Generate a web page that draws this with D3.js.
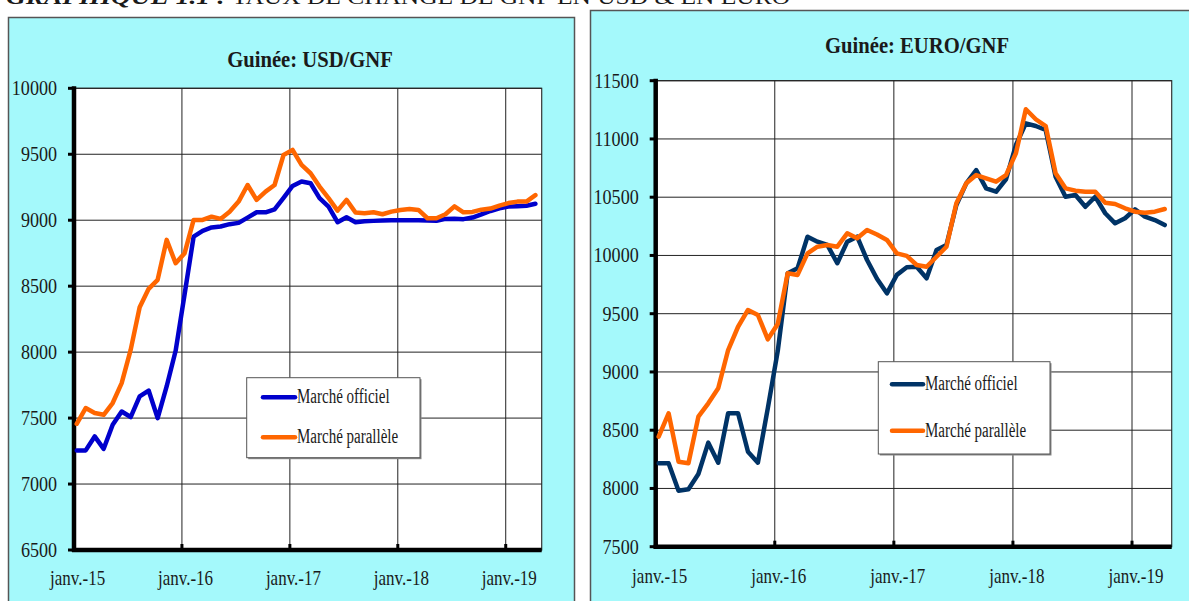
<!DOCTYPE html>
<html>
<head>
<meta charset="utf-8">
<script src="https://cdn.jsdelivr.net/npm/d3@7"></script>
<style>
  body { margin: 0; background: #fff; }
  text { font-family: "Liberation Serif", "Times New Roman", serif; fill: #1a1a1a; }
</style>
</head>
<body>
<div id="chart"></div>
<script>
// monthly series, janv.-15 .. avr.-19 (52 months)
var tickLabels = ["janv.-15", "janv.-16", "janv.-17", "janv.-18", "janv.-19"]
var seriesNames = ["Marché officiel", "Marché parallèle"]

var usdOfficiel = [7255, 7255, 7361, 7267, 7449, 7550, 7508, 7664, 7709, 7500, 7740, 8010,
  8440, 8876, 8920, 8945, 8952, 8970, 8980, 9020, 9060, 9060, 9083, 9170,
  9260, 9293, 9280, 9167, 9103, 8985, 9023, 8985, 8992, 8995, 8998, 9000,
  9000, 9000, 9000, 8998, 8996, 9010, 9012, 9008, 9020, 9045, 9070, 9090,
  9103, 9106, 9110, 9125]
var usdParallele = [7457, 7576, 7538, 7525, 7614, 7765, 8017, 8340, 8480, 8548, 8851, 8674,
  8750, 9002, 9002, 9027, 9010, 9065, 9141, 9267, 9154, 9217, 9267, 9495,
  9533, 9419, 9356, 9255, 9167, 9073, 9154, 9058, 9053, 9060, 9045, 9065,
  9078, 9085, 9078, 9015, 9015, 9045, 9105, 9060, 9063, 9080, 9088, 9110,
  9130, 9141, 9141, 9190]

var euroOfficiel = [8216, 8216, 7981, 7993, 8124, 8393, 8221, 8645, 8645, 8315, 8221, 8690,
  9180, 9847, 9890, 10161, 10118, 10090, 9933, 10118, 10161, 9961, 9800, 9675,
  9833, 9898, 9903, 9804, 10047, 10090, 10433, 10619, 10733, 10576, 10547, 10654,
  10948, 11134, 11111, 11077, 10676, 10504, 10519, 10418, 10504, 10362, 10276, 10319,
  10396, 10333, 10304, 10261]
var euroParallele = [8444, 8645, 8230, 8216, 8616, 8731, 8860, 9188, 9388, 9532, 9489, 9280,
  9412, 9847, 9833, 10018, 10075, 10090, 10075, 10190, 10147, 10218, 10180, 10133,
  10018, 9996, 9918, 9903, 9989, 10075, 10448, 10619, 10690, 10662, 10633, 10690,
  10877, 11255, 11169, 11111, 10705, 10576, 10556, 10547, 10547, 10453, 10442, 10405,
  10376, 10367, 10376, 10399]

var usdTicks = [6500, 7000, 7500, 8000, 8500, 9000, 9500, 10000]
var euroTicks = [7500, 8000, 8500, 9000, 9500, 10000, 10500, 11000, 11500]

var width = 1189,
  height = 601

var svg = d3.select("#chart").append("svg")
  .attr("width", width)
  .attr("height", height)

// squeeze text horizontally (the original font is a narrow Garamond)
function squeeze(sel, k) {
  sel.each(function() {
    var w = this.getComputedTextLength()
    d3.select(this).attr("textLength", w * k).attr("lengthAdjust", "spacingAndGlyphs")
  })
}

// page header, cut by the top of the picture
svg.append("text").attr("x", 6).attr("y", 4)
  .style("font-size", "20px").style("font-weight", "bold").style("font-style", "italic")
  .text("GRAPHIQUE 1.1 :")
  .attr("textLength", 220).attr("lengthAdjust", "spacingAndGlyphs")
svg.append("text").attr("x", 232).attr("y", 4)
  .style("font-size", "20px")
  .text("TAUX DE CHANGE DE GNF EN USD & EN EURO")
  .attr("textLength", 558).attr("lengthAdjust", "spacingAndGlyphs")

function drawPanel(cfg) {
  // cyan frame
  svg.append("rect")
    .attr("x", cfg.panel[0]).attr("y", cfg.panel[1])
    .attr("width", cfg.panel[2]).attr("height", cfg.panel[3])
    .attr("fill", "#a4f9fb").attr("stroke", "#555").attr("stroke-width", 1.5)

  var x = d3.scaleLinear().domain([0, 52]).range([cfg.x0, cfg.x1])
  var y = d3.scaleLinear().domain(cfg.yDomain).range([cfg.y1, cfg.y0])

  var g = svg.append("g")

  // plot area
  g.append("rect")
    .attr("x", cfg.x0).attr("y", cfg.y0)
    .attr("width", cfg.x1 - cfg.x0).attr("height", cfg.y1 - cfg.y0)
    .attr("fill", "#fff").attr("stroke", "#333").attr("stroke-width", 1.2)

  // gridlines
  g.selectAll(".hgrid").data(cfg.yTicks).enter().append("line")
    .attr("x1", cfg.x0).attr("x2", cfg.x1)
    .attr("y1", function(d) { return y(d) }).attr("y2", function(d) { return y(d) })
    .attr("stroke", "#222").attr("stroke-width", 1)

  g.selectAll(".vgrid").data(tickLabels).enter().append("line")
    .attr("x1", function(d, i) { return x(i * 12) }).attr("x2", function(d, i) { return x(i * 12) })
    .attr("y1", cfg.y0).attr("y2", cfg.y1)
    .attr("stroke", "#222").attr("stroke-width", 1)

  // axes
  g.append("line").attr("x1", cfg.x0).attr("x2", cfg.x0)
    .attr("y1", cfg.y0 - 2).attr("y2", cfg.y1 + 2)
    .attr("stroke", "#000").attr("stroke-width", 4.5)
  g.append("line").attr("x1", cfg.x0 - 2).attr("x2", cfg.x1)
    .attr("y1", cfg.y1).attr("y2", cfg.y1)
    .attr("stroke", "#000").attr("stroke-width", 4.5)

  g.selectAll(".ytick").data(cfg.yTicks).enter().append("rect")
    .attr("x", cfg.x0 - 6).attr("y", function(d) { return y(d) - 1.5 })
    .attr("width", 6).attr("height", 3).attr("fill", "#000")
  g.selectAll(".xtick").data(tickLabels).enter().append("rect")
    .attr("x", function(d, i) { return x(i * 12) - 1.5 }).attr("y", cfg.y1 - 6)
    .attr("width", 3).attr("height", 6).attr("fill", "#000")

  // tick labels
  var yl = g.selectAll(".ylab").data(cfg.yTicks).enter().append("text")
    .attr("x", cfg.x0 - 17).attr("y", function(d) { return y(d) + 7 })
    .attr("text-anchor", "end")
    .style("font-size", "21px")
    .text(function(d) { return d })
  squeeze(yl, 0.86)

  var xl = g.selectAll(".xlab").data(tickLabels).enter().append("text")
    .attr("x", function(d, i) { return x(i * 12 + 0.4) }).attr("y", cfg.xLabY)
    .attr("text-anchor", "middle")
    .style("font-size", "21px")
    .text(function(d) { return d })
  squeeze(xl, 0.81)

  // series lines
  var line = d3.line()
    .x(function(d, i) { return x(i + 0.3) })
    .y(function(d) { return y(d) })

  var colors = [cfg.official, "#ff6600"]
  ;[cfg.data[0], cfg.data[1]].forEach(function(s, k) {
    g.append("path").datum(s)
      .attr("d", line)
      .attr("fill", "none")
      .attr("stroke", colors[k])
      .attr("stroke-width", 4.5)
      .attr("stroke-linejoin", "round")
      .attr("stroke-linecap", "round")
  })

  // title
  var t = svg.append("text").attr("x", cfg.title[0]).attr("y", cfg.title[1])
    .attr("text-anchor", "middle")
    .style("font-size", "24px").style("font-weight", "bold")
    .text(cfg.titleText)
  squeeze(t, 0.86)

  // legend
  var lg = cfg.legend
  svg.append("rect").attr("x", lg[0] + 1.5).attr("y", lg[1] + 1.5)
    .attr("width", lg[2]).attr("height", lg[3]).attr("fill", "#888")
  svg.append("rect").attr("x", lg[0]).attr("y", lg[1])
    .attr("width", lg[2]).attr("height", lg[3])
    .attr("fill", "#fff").attr("stroke", "#555").attr("stroke-width", 1)

  seriesNames.forEach(function(name, k) {
    var ry = lg[4][k]
    svg.append("line")
      .attr("x1", lg[5]).attr("x2", lg[6]).attr("y1", ry).attr("y2", ry)
      .attr("stroke", colors[k]).attr("stroke-width", 4.5).attr("stroke-linecap", "round")
    var lt = svg.append("text").attr("x", lg[6] + 2).attr("y", ry + 6)
      .style("font-size", "20px")
      .text(name)
    squeeze(lt, 0.75)
  })
}

drawPanel({
  panel: [8.5, 17.5, 566, 620],
  x0: 74, x1: 541.7, y0: 88.3, y1: 550,
  yDomain: [6500, 10000], yTicks: usdTicks,
  xLabY: 585,
  title: [310, 67], titleText: "Guinée: USD/GNF",
  official: "#0000cc",
  data: [usdOfficiel, usdParallele],
  legend: [246.7, 377.7, 173.3, 80, [397.3, 437.3], 263, 295]
})

drawPanel({
  panel: [590.5, 10.5, 640, 620],
  x0: 655.7, x1: 1171.7, y0: 80.7, y1: 546.7,
  yDomain: [7500, 11500], yTicks: euroTicks,
  xLabY: 583,
  title: [917, 53], titleText: "Guinée: EURO/GNF",
  official: "#003366",
  data: [euroOfficiel, euroParallele],
  legend: [878.3, 361.7, 171.7, 92.3, [384.3, 430.7], 892, 923]
})
</script>
</body>
</html>
